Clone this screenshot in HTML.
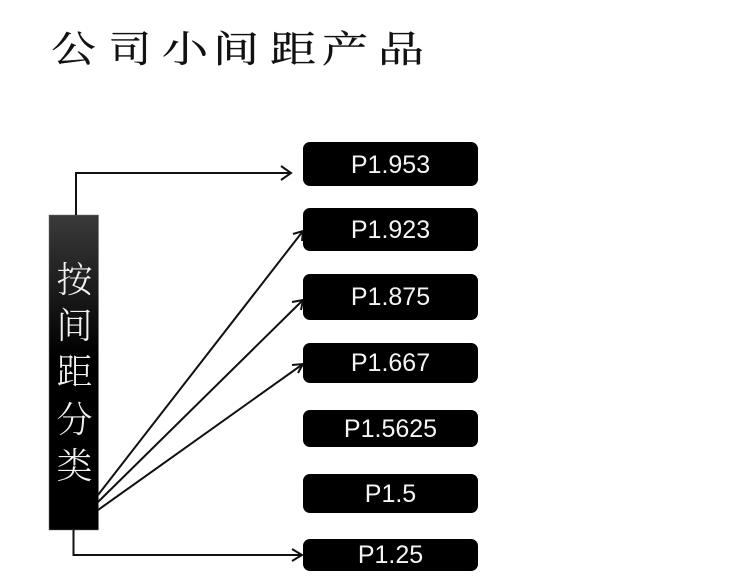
<!DOCTYPE html>
<html lang="zh">
<head>
<meta charset="utf-8">
<style>
html,body{margin:0;padding:0;background:#fff;width:750px;height:578px;overflow:hidden}
svg{display:block}
.t{font-family:"Noto Serif CJK SC","Noto Sans CJK SC",serif;font-size:37px;font-weight:400;fill:#111;stroke:#111;stroke-width:.35;text-anchor:middle}
.v{font-family:"Noto Serif CJK SC","Noto Sans CJK SC",serif;font-size:36px;font-weight:300;fill:#f2f2f2;text-anchor:middle}
.p{font-family:"Liberation Sans",Arial,sans-serif;font-size:25px;fill:#f4f4f4;text-anchor:middle}
.l{fill:none;stroke:#111;stroke-width:2}
</style>
</head>
<body>
<svg width="750" height="578" viewBox="0 0 750 578" xmlns="http://www.w3.org/2000/svg">
<defs>
<linearGradient id="g" x1="0" y1="0" x2="0" y2="1">
<stop offset="0" stop-color="#3a3a3a"/>
<stop offset="0.45" stop-color="#000"/>
<stop offset="1" stop-color="#000"/>
</linearGradient>
</defs>
<rect width="750" height="578" fill="#fff"/>
<text class="t" transform="translate(73.500 62) scale(1.2 1)">公</text>
<text class="t" transform="translate(130 62) scale(1.15 1)">司</text>
<text class="t" transform="translate(185 62) scale(1.25 1)">小</text>
<text class="t" transform="translate(236 62) scale(1.25 1)">间</text>
<text class="t" transform="translate(293 62) scale(1.25 1)">距</text>
<text class="t" transform="translate(345 62) scale(1.25 1)">产</text>
<text class="t" transform="translate(401 62) scale(1.25 1)">品</text>
<rect x="49" y="215" width="49.5" height="315" fill="url(#g)" stroke="#777" stroke-width="0.5"/>
<text class="v" x="74.500" y="292">按</text>
<text class="v" x="74.500" y="338">间</text>
<text class="v" x="74.500" y="384">距</text>
<text class="v" x="74.500" y="432">分</text>
<text class="v" x="74.500" y="478">类</text>
<path class="l" d="M76 215V173H291"/>
<path class="l" d="M281 166L291 173L281 180"/>
<path class="l" d="M98 495L303 231"/>
<path class="l" d="M293 234L303 231L302 241"/>
<path class="l" d="M98 502L303 300"/>
<path class="l" d="M292 302L303 300L301 310"/>
<path class="l" d="M98 510L303 364"/>
<path class="l" d="M292 365L303 364L298 373"/>
<path class="l" d="M73.500 530V555H302"/>
<path class="l" d="M292 549L302 555L292 561"/>
<rect x="303" y="142" width="175" height="44" rx="7" fill="#000"/>
<rect x="303" y="208" width="175" height="43" rx="7" fill="#000"/>
<rect x="303" y="274" width="175" height="46" rx="7" fill="#000"/>
<rect x="303" y="343" width="175" height="40" rx="7" fill="#000"/>
<rect x="303" y="410" width="175" height="37" rx="7" fill="#000"/>
<rect x="303" y="474" width="175" height="39" rx="7" fill="#000"/>
<rect x="303" y="539" width="175" height="32" rx="7" fill="#000"/>
<text class="p" x="390.500" y="173">P1.953</text>
<text class="p" x="390.500" y="238">P1.923</text>
<text class="p" x="390.500" y="305">P1.875</text>
<text class="p" x="390.500" y="371">P1.667</text>
<text class="p" x="390.500" y="437">P1.5625</text>
<text class="p" x="390.500" y="502">P1.5</text>
<text class="p" x="390.500" y="563">P1.25</text>
</svg>
</body>
</html>
